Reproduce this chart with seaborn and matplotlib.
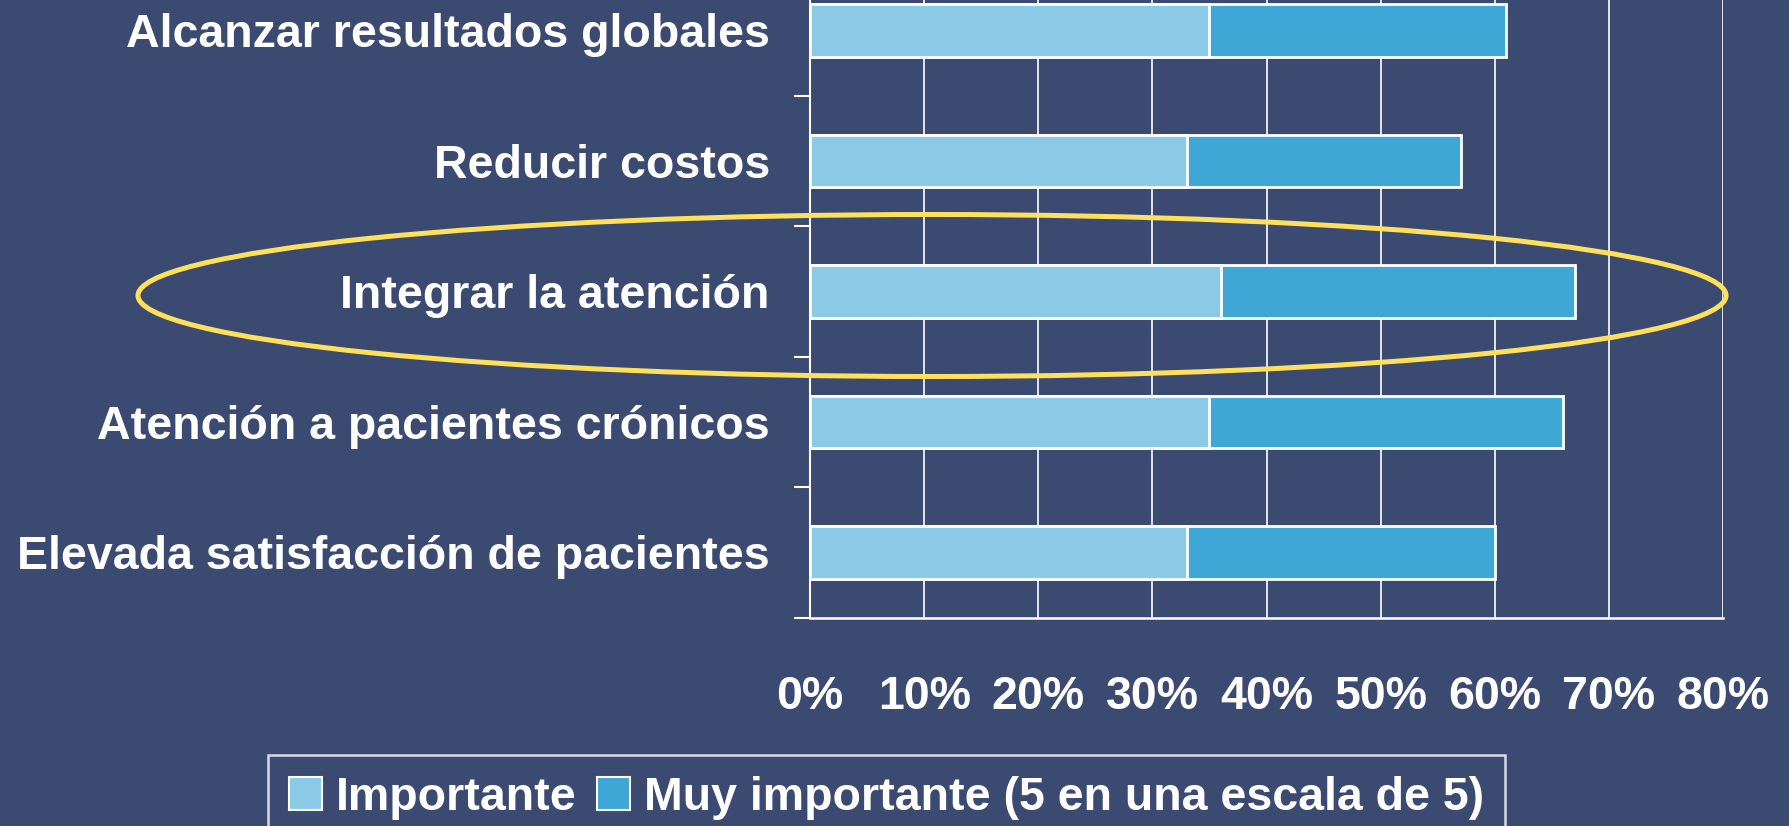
import pandas as pd
import matplotlib.pyplot as plt
import seaborn as sns
from matplotlib.patches import Patch, Ellipse


# Chart values (percent of respondents)
categories = [
    "Alcanzar resultados globales",
    "Reducir costos",
    "Integrar la atención",
    "Atención a pacientes crónicos",
    "Elevada satisfacción de pacientes",
]
importante = [35, 33, 36, 35, 33]
muy_importante = [26, 24, 31, 31, 27]
x_ticks = [0, 10, 20, 30, 40, 50, 60, 70, 80]
x_tick_labels = [f"{t}%" for t in x_ticks]
legend_labels = ["Importante", "Muy importante (5 en una escala de 5)"]

df = pd.DataFrame({
    "objetivo": categories,
    "Importante": importante,
    "Muy importante": muy_importante,
})
df["total"] = df["Importante"] + df["Muy importante"]

bg = "#3B4A71"
light = "#8BCAE6"
dark = "#3FA7D6"
yellow = "#FFE05A"

sns.set_theme(style="dark")
plt.rcParams["font.family"] = ["Liberation Sans", "DejaVu Sans"]
plt.rcParams["font.weight"] = "bold"

fig = plt.figure(figsize=(17.89, 8.26), dpi=100, facecolor=bg)
ax = fig.add_axes([0.4528, 0.2522, 0.5103, 0.7478])
ax.set_facecolor(bg)

# stacked bars: total first, then the "Importante" part on top
sns.barplot(data=df, x="total", y="objetivo", orient="h", color=dark,
            edgecolor="white", linewidth=2, width=0.4, saturation=1, ax=ax)
sns.barplot(data=df, x="Importante", y="objetivo", orient="h", color=light,
            edgecolor="white", linewidth=2, width=0.4, saturation=1, ax=ax)

ax.set_xlim(0, 80)
ax.set_ylim(4.5, -0.233)
ax.set_xticks(x_ticks)
ax.set_xticklabels(x_tick_labels)
ax.set_yticks([i + 0.5 for i in range(len(categories))], minor=True)
ax.set_xlabel("")
ax.set_ylabel("")

ax.set_axisbelow(True)
ax.grid(axis="x", color="white", linewidth=1.2)
ax.grid(axis="y", visible=False)

ax.tick_params(axis="x", which="major", length=11.5, width=1.5, color="white",
               direction="out", pad=30, labelsize=33.5, labelcolor="white")
ax.tick_params(axis="y", which="major", length=0, pad=29, labelsize=33.5,
               labelcolor="white")
ax.tick_params(axis="y", which="minor", length=11.5, width=1.5, color="white",
               direction="out", left=True)
for lab in ax.get_xticklabels() + ax.get_yticklabels():
    lab.set_fontweight("bold")

for side in ["top", "right"]:
    ax.spines[side].set_visible(False)
ax.spines["left"].set_color("white")
ax.spines["left"].set_linewidth(1.5)
ax.spines["bottom"].set_color("white")
ax.spines["bottom"].set_linewidth(1.8)

handles = [Patch(facecolor=light, edgecolor="white", linewidth=1.5),
           Patch(facecolor=dark, edgecolor="white", linewidth=1.5)]
leg = fig.legend(handles, legend_labels, loc="upper center",
                 bbox_to_anchor=(0.4955, 1 - 755 / 826), ncol=2,
                 fontsize=33.5, frameon=True, fancybox=False,
                 handlelength=0.7, handleheight=0.7, handletextpad=0.3,
                 columnspacing=0.45, borderpad=0.45, borderaxespad=0)
leg.get_frame().set_facecolor(bg)
leg.get_frame().set_edgecolor("white")
leg.get_frame().set_linewidth(1.8)
for t in leg.get_texts():
    t.set_color("white")
    t.set_fontweight("bold")

# highlight ring around "Integrar la atención"
ring = Ellipse((932 / 1789, 1 - 295.5 / 826), 1588 / 1789, 162 / 826,
               transform=fig.transFigure, fill=False, edgecolor=yellow,
               linewidth=3.6, zorder=10)
fig.add_artist(ring)

fig.savefig("out.png", dpi=100, facecolor=bg)
